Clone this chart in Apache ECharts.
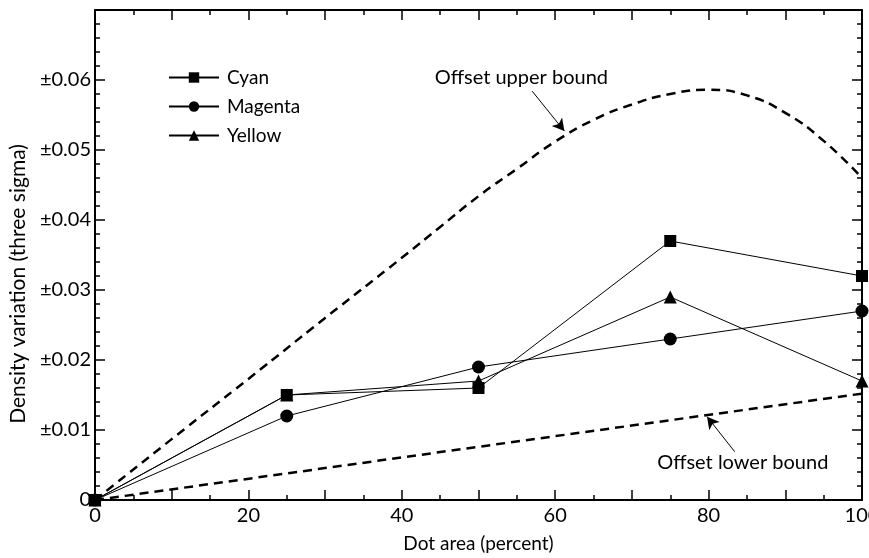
<!DOCTYPE html>
<html>
<head>
<meta charset="utf-8">
<script src="https://cdn.jsdelivr.net/npm/echarts@6/dist/echarts.min.js"></script>
<style>
  html, body { margin: 0; padding: 0; background: #fff; }
  #chart { width: 869px; height: 558px; }
</style>
</head>
<body>
<div id="chart"></div>
<script>
// Dot area (percent) at which density variation was measured
const dotArea = [0, 25, 50, 75, 100];

// Three-sigma density variation per ink
const cyan    = [0, 0.015, 0.016, 0.037, 0.032];
const magenta = [0, 0.012, 0.019, 0.023, 0.027];
const yellow  = [0, 0.015, 0.017, 0.029, 0.017];

// Offset bounds
const upperX = [0, 10, 20, 30, 40, 45, 50, 55, 60, 65, 70, 75, 80, 85, 90, 95, 100];
const upperY = [0, 0.0087, 0.0173, 0.026, 0.0346, 0.039, 0.0434, 0.0473, 0.0512,
                0.0543, 0.0565, 0.058, 0.0586, 0.0578, 0.0553, 0.0513, 0.046];
const lowerX = [0, 100];
const lowerY = [0, 0.0152];

// Tick labels
const xTickLabels = ['0', '20', '40', '60', '80', '100'];
const yTickLabels = ['0', '±0.01', '±0.02', '±0.03', '±0.04', '±0.05', '±0.06'];

const FONT = 'Lato';
const zip = (xs, ys) => xs.map((x, i) => [x, ys[i]]);

const chart = echarts.init(document.getElementById('chart'), null, { renderer: 'canvas' });

const axisLine = { show: true, onZero: false, lineStyle: { color: '#000', width: 2 } };
const majorTick = { show: true, inside: true, length: 10, lineStyle: { color: '#000', width: 1.5 } };
const minorTickX = { show: true, splitNumber: 2, length: 5, lineStyle: { color: '#000', width: 1.5 } };
const minorTickY = { show: true, splitNumber: 5, length: 5, lineStyle: { color: '#000', width: 1.5 } };

function xLabel(v) {
  const i = Math.round(v / 20);
  return Math.abs(v - i * 20) < 1e-6 ? (xTickLabels[i] || '') : '';
}
function yLabel(v) {
  const i = Math.round(v / 0.01);
  return yTickLabels[i] || '';
}

const dataLine = { color: '#000', width: 1 };

chart.setOption({
  animation: false,
  backgroundColor: '#fff',
  grid: { left: 95, right: 7, top: 10, bottom: 58, containLabel: false, outerBoundsMode: 'none' },
  legend: {
    data: ['Cyan', 'Magenta', 'Yellow'],
    orient: 'vertical',
    left: 163, top: 61,
    itemWidth: 50, itemHeight: 13, itemGap: 6,
    textStyle: { fontFamily: FONT, fontSize: 19, color: '#000', padding: [0, 0, 0, 3], lineHeight: 23 }
  },
  xAxis: [
    {
      type: 'value', position: 'bottom', min: 0, max: 100, interval: 10,
      axisLine, axisTick: majorTick, minorTick: minorTickX, splitLine: { show: false },
      axisLabel: { formatter: xLabel, color: '#000', fontFamily: FONT, fontSize: 20, margin: 6 },
      name: 'Dot area (percent)', nameLocation: 'middle', nameGap: 34,
      nameTextStyle: { fontFamily: FONT, fontSize: 19, color: '#000' }
    },
    {
      type: 'value', position: 'top', min: 0, max: 100, interval: 10,
      axisLine, axisTick: majorTick, minorTick: minorTickX, splitLine: { show: false },
      axisLabel: { show: false }
    }
  ],
  yAxis: [
    {
      type: 'value', position: 'left', min: 0, max: 0.07, interval: 0.01,
      axisLine, axisTick: majorTick, minorTick: minorTickY, splitLine: { show: false },
      axisLabel: { formatter: yLabel, color: '#000', fontFamily: FONT, fontSize: 20, margin: 4 }
    },
    {
      type: 'value', position: 'right', min: 0, max: 0.07, interval: 0.01,
      axisLine, axisTick: majorTick, minorTick: minorTickY, splitLine: { show: false },
      axisLabel: { show: false }
    }
  ],
  graphic: [{
    type: 'text', x: 18, y: 284, rotation: Math.PI / 2,
    style: {
      text: 'Density variation (three sigma)', fill: '#000',
      font: '21px ' + FONT, textAlign: 'center', textVerticalAlign: 'middle'
    }
  }],
  series: [
    {
      name: 'Offset upper bound', type: 'line', smooth: true, symbol: 'none',
      data: zip(upperX, upperY),
      lineStyle: { color: '#000', width: 2.5, type: [9, 6] },
      markLine: {
        silent: true, symbol: ['none', 'arrow'], symbolSize: [10, 12],
        label: { show: false },
        lineStyle: { color: '#000', width: 1, type: 'solid' },
        data: [[{ coord: [57.0, 0.0584] }, { coord: [61.2, 0.0527] }]]
      },
      markPoint: {
        symbol: 'circle', symbolSize: 0, silent: true,
        label: { show: true, position: 'right', distance: 0, color: '#000',
                 fontFamily: FONT, fontSize: 20, formatter: 'Offset upper bound' },
        data: [{ coord: [44.3, 0.0604] }]
      }
    },
    {
      name: 'Offset lower bound', type: 'line', symbol: 'none',
      data: zip(lowerX, lowerY),
      lineStyle: { color: '#000', width: 2.5, type: [9, 6] },
      markLine: {
        silent: true, symbol: ['none', 'arrow'], symbolSize: [10, 12],
        label: { show: false },
        lineStyle: { color: '#000', width: 1, type: 'solid' },
        data: [[{ coord: [83.4, 0.0069] }, { coord: [79.8, 0.0119] }]]
      },
      markPoint: {
        symbol: 'circle', symbolSize: 0, silent: true,
        label: { show: true, position: 'right', distance: 0, color: '#000',
                 fontFamily: FONT, fontSize: 20, formatter: 'Offset lower bound' },
        data: [{ coord: [73.3, 0.0054] }]
      }
    },
    {
      name: 'Cyan', type: 'line', symbol: 'rect', symbolSize: 12,
      data: zip(dotArea, cyan), lineStyle: dataLine,
      itemStyle: { color: '#000' }
    },
    {
      name: 'Magenta', type: 'line', symbol: 'circle', symbolSize: 13,
      data: zip(dotArea, magenta), lineStyle: dataLine,
      itemStyle: { color: '#000' }
    },
    {
      name: 'Yellow', type: 'line', symbol: 'triangle', symbolSize: 13,
      data: zip(dotArea, yellow), lineStyle: dataLine,
      itemStyle: { color: '#000' }
    }
  ]
});
</script>
</body>
</html>
